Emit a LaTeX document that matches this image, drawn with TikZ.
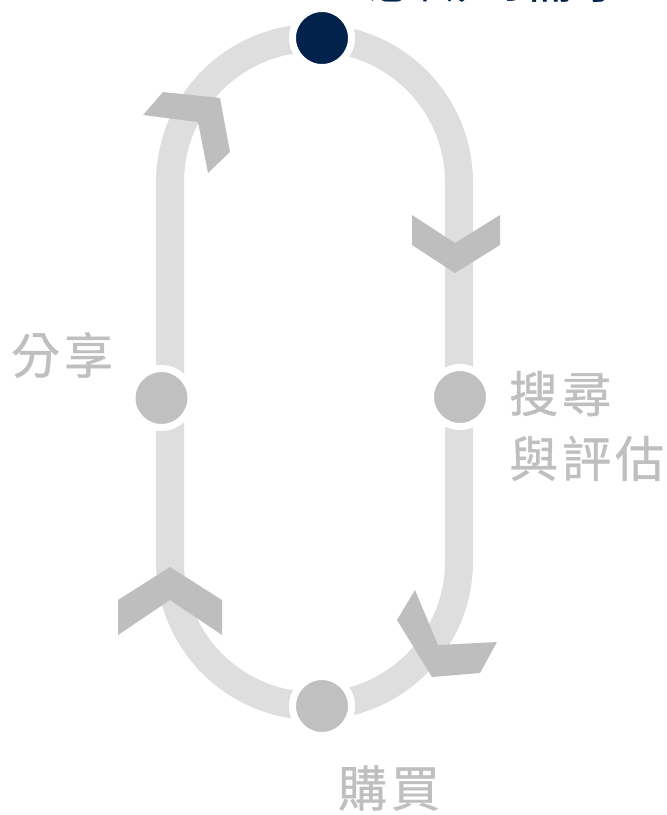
\documentclass[tikz,border=0pt]{standalone}
\usepackage{fontspec}
\newfontfamily\cjk[FakeBold=0.8,LetterSpace=8]{Noto Sans CJK TC}
\definecolor{trackc}{HTML}{DEDEDE}
\definecolor{dotc}{HTML}{C0C0C0}
\definecolor{chevc}{HTML}{BEBEBE}
\definecolor{navyc}{HTML}{02224C}
\definecolor{lblc}{HTML}{BFBFBF}
\begin{document}
\begin{tikzpicture}[x=1pt,y=-1pt,
  track/.style={draw=trackc,line width=28pt},
  stage/.style={circle,fill=dotc,draw=white,line width=7pt,minimum size=59pt,inner sep=0pt},
  chevron/.style={fill=chevc},
  lbl/.style={text=lblc,font=\cjk\fontsize{49}{65}\selectfont,inner sep=0pt},
]
\useasboundingbox (0,0) rectangle (667,815);
\clip (0,0) rectangle (667,815);
% track
\draw[track] (170,561.5) -- (170,182.5) arc[start angle=180,end angle=360,radius=144.5]
  -- (459,561.5) arc[start angle=0,end angle=180,radius=144.5] -- cycle;
% chevrons
\fill[chevron] (412,215) -- (455,243) -- (500,215) -- (500,245) -- (455,273) -- (412,245) -- cycle;
\fill[chevron] (415,590) -- (438,645) -- (497,642) -- (480,673) -- (432,677) -- (397,620) -- cycle;
\fill[chevron] (118,635) -- (118,600) -- (170,567) -- (222,600) -- (222,635) -- (170,600) -- cycle;
\fill[chevron] (163,92) -- (220,98) -- (230,152) -- (208,173) -- (198,122) -- (143,115) -- cycle;
% stages
\node[stage,fill=navyc] (aware) at (322,38) {};
\node[stage] (search) at (460,397) {};
\node[stage] (buy) at (322,706) {};
\node[stage] (share) at (161.5,398) {};
% labels
\node[lbl,text=navyc,anchor=center] (awaretxt) at (497,-21) {意識到需求};
\node[lbl,anchor=west,align=left] (searchtxt) at (509,426) {搜尋\\與評估};
\node[lbl] (buytxt) at (389,788) {購買};
\node[lbl] (sharetxt) at (62,355) {分享};
\end{tikzpicture}
\end{document}
